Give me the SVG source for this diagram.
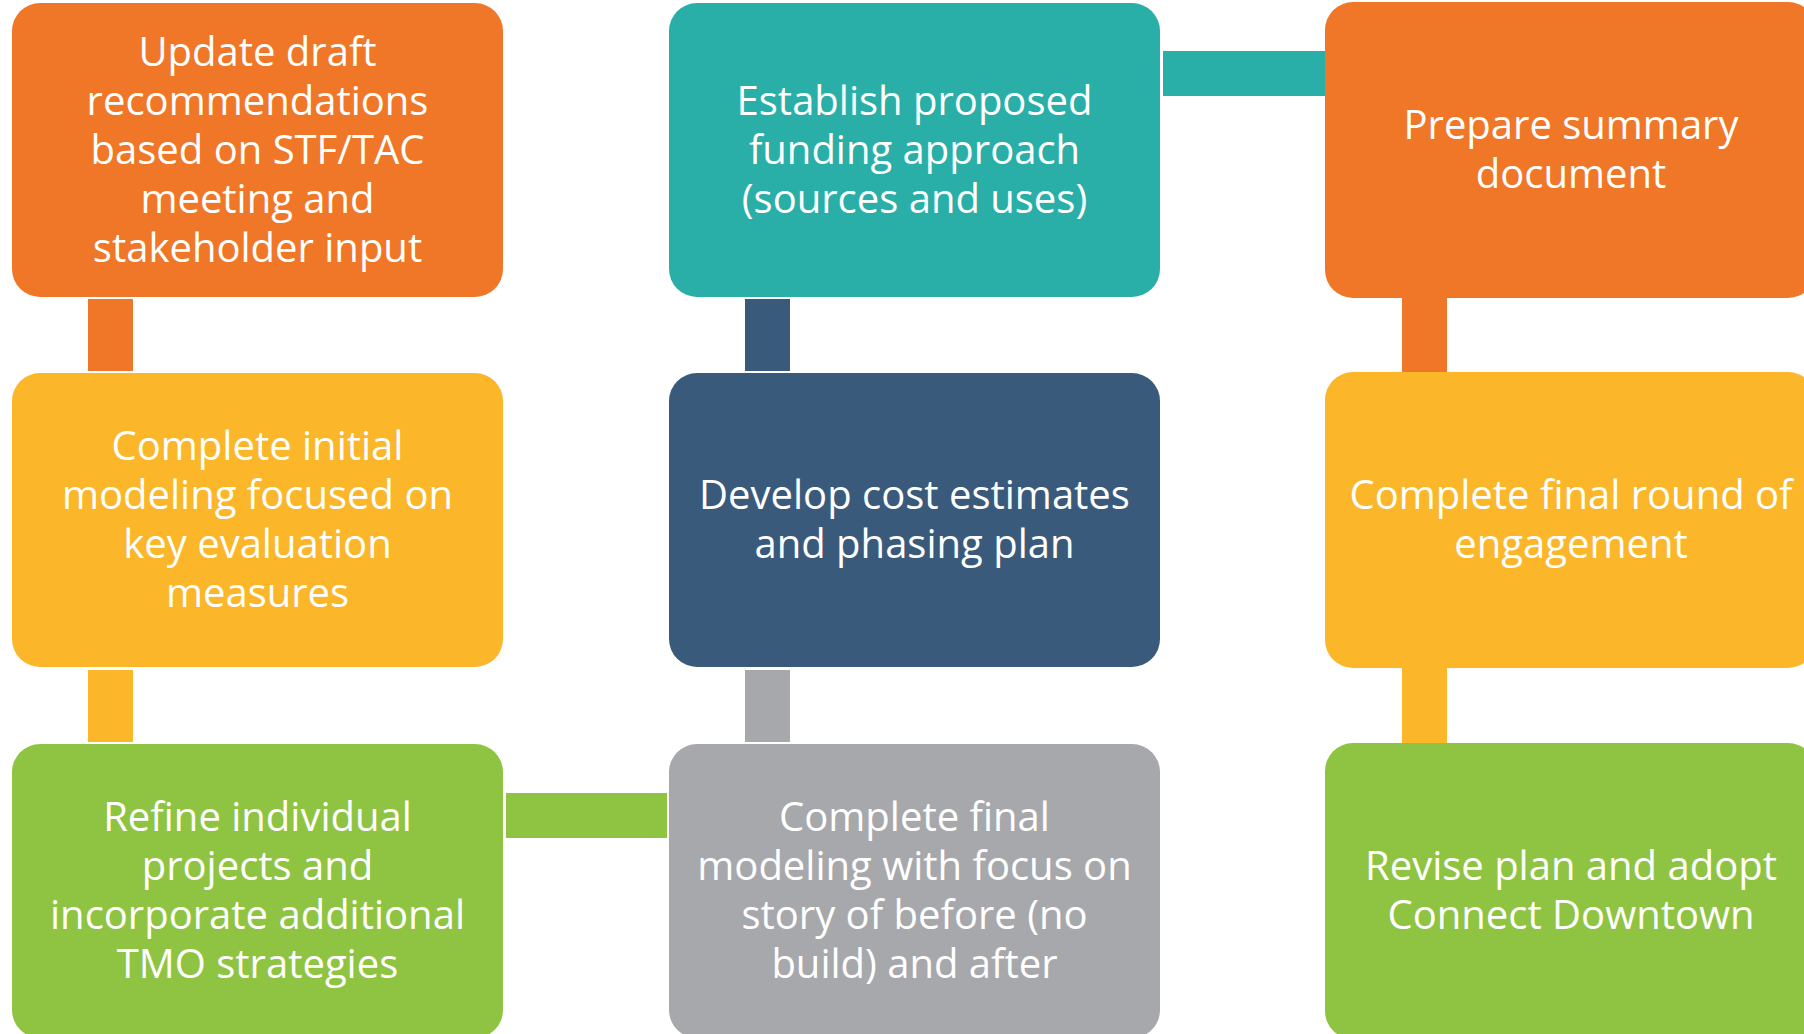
<svg xmlns="http://www.w3.org/2000/svg" width="1804" height="1034" viewBox="0 0 1804 1034">
  <style>
    .lbl { font-family: "Open Sans", "Noto Sans", "Liberation Sans", sans-serif; font-size: 40px; fill: #ffffff; text-anchor: middle; }
    .orange { fill: #EF7727; }
    .teal { fill: #29AFA7; }
    .navy { fill: #3A5A7C; }
    .yellow { fill: #FBB629; }
    .green { fill: #8FC442; }
    .gray { fill: #A7A8AC; }
  </style>
  <rect width="1804" height="1034" fill="#ffffff"/>

  <!-- connectors: flat bars linking the step boxes -->
  <g id="connectors">
    <rect class="orange" x="88" y="299" width="45" height="72"/>
    <rect class="yellow" x="88" y="670" width="45" height="72"/>
    <rect class="green" x="506" y="793" width="161" height="45"/>
    <rect class="gray" x="745" y="670" width="45" height="72"/>
    <rect class="navy" x="745" y="299" width="45" height="72"/>
    <rect class="teal" x="1163" y="51" width="164" height="45"/>
    <rect class="orange" x="1402" y="290" width="45" height="90"/>
    <rect class="yellow" x="1402" y="660" width="45" height="90"/>
  </g>

  <!-- column 1 -->
  <g id="update-draft">
    <rect class="orange" x="12" y="3" width="491" height="294" rx="28"/>
    <text class="lbl"><tspan x="257.5" y="66">Update draft</tspan><tspan x="257.5" y="115">recommendations</tspan><tspan x="257.5" y="164">based on STF/TAC</tspan><tspan x="257.5" y="213">meeting and</tspan><tspan x="257.5" y="262">stakeholder input</tspan></text>
  </g>
  <g id="initial-modeling">
    <rect class="yellow" x="12" y="373" width="491" height="294" rx="28"/>
    <text class="lbl"><tspan x="257.5" y="460">Complete initial</tspan><tspan x="257.5" y="509">modeling focused on</tspan><tspan x="257.5" y="558">key evaluation</tspan><tspan x="257.5" y="607">measures</tspan></text>
  </g>
  <g id="refine-projects">
    <rect class="green" x="12" y="744" width="491" height="294" rx="28"/>
    <text class="lbl"><tspan x="257.5" y="831">Refine individual</tspan><tspan x="257.5" y="880">projects and</tspan><tspan x="257.5" y="929">incorporate additional</tspan><tspan x="257.5" y="978">TMO strategies</tspan></text>
  </g>

  <!-- column 2 -->
  <g id="funding-approach">
    <rect class="teal" x="669" y="3" width="491" height="294" rx="28"/>
    <text class="lbl"><tspan x="914.5" y="115">Establish proposed</tspan><tspan x="914.5" y="164">funding approach</tspan><tspan x="914.5" y="213">(sources and uses)</tspan></text>
  </g>
  <g id="cost-estimates">
    <rect class="navy" x="669" y="373" width="491" height="294" rx="28"/>
    <text class="lbl"><tspan x="914.5" y="509">Develop cost estimates</tspan><tspan x="914.5" y="558">and phasing plan</tspan></text>
  </g>
  <g id="final-modeling">
    <rect class="gray" x="669" y="744" width="491" height="294" rx="28"/>
    <text class="lbl"><tspan x="914.5" y="831">Complete final</tspan><tspan x="914.5" y="880">modeling with focus on</tspan><tspan x="914.5" y="929">story of before (no</tspan><tspan x="914.5" y="978">build) and after</tspan></text>
  </g>

  <!-- column 3 -->
  <g id="summary-document">
    <rect class="orange" x="1325" y="2" width="491" height="296" rx="28"/>
    <text class="lbl"><tspan x="1571" y="139">Prepare summary</tspan><tspan x="1571" y="188">document</tspan></text>
  </g>
  <g id="final-engagement">
    <rect class="yellow" x="1325" y="372" width="491" height="296" rx="28"/>
    <text class="lbl"><tspan x="1571" y="509">Complete final round of</tspan><tspan x="1571" y="558">engagement</tspan></text>
  </g>
  <g id="adopt-plan">
    <rect class="green" x="1325" y="743" width="491" height="296" rx="28"/>
    <text class="lbl"><tspan x="1571" y="880">Revise plan and adopt</tspan><tspan x="1571" y="929">Connect Downtown</tspan></text>
  </g>
</svg>
